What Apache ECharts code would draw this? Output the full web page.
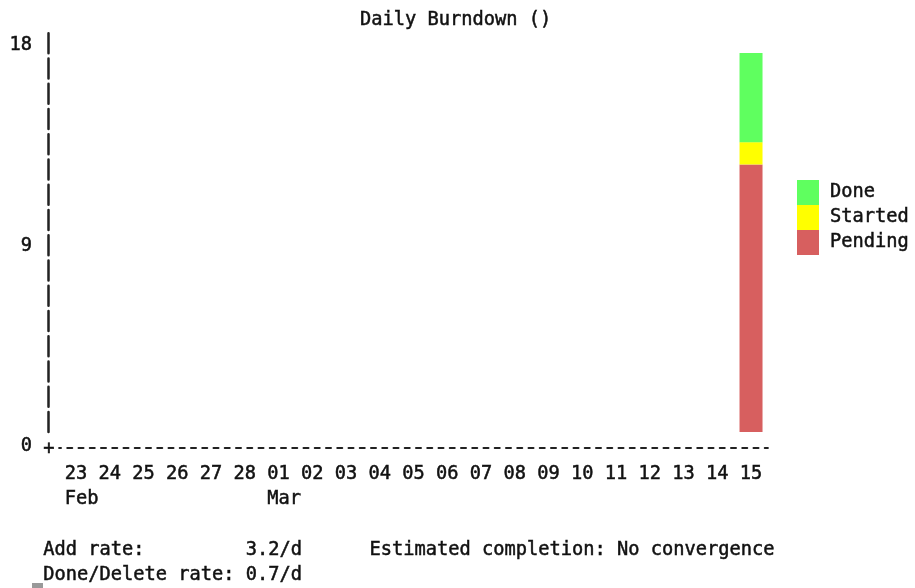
<!DOCTYPE html>
<html><head><meta charset="utf-8">
<script src="https://cdn.jsdelivr.net/npm/echarts@6/dist/echarts.min.js"></script>
<style>html,body{margin:0;padding:0;background:#fff}#c{width:915px;height:588px}</style>
</head><body><div id="c"></div>
<script>
// ---- data ----
const days = ['23','24','25','26','27','28','01','02','03','04','05','06','07','08','09','10','11','12','13','14','15'];
const monthStarts = {'23': 'Feb', '01': 'Mar'};
const pending = [null,null,null,null,null,null,null,null,null,null,null,null,null,null,null,null,null,null,null,null,12];
const started = [null,null,null,null,null,null,null,null,null,null,null,null,null,null,null,null,null,null,null,null,1];
const done    = [null,null,null,null,null,null,null,null,null,null,null,null,null,null,null,null,null,null,null,null,4];
const yMax = 18;
const yStep = 9;
const chartTitle = 'Daily Burndown ()';
const addRateLine = 'Add rate:         3.2/d      Estimated completion: No convergence';
const doneRateLine = 'Done/Delete rate: 0.7/d';

// ---- styles ----
const FONT = '"DejaVu Sans Mono", "Liberation Mono", monospace';
const FS = 18.7;
const INK = '#111';
const SW = 0.5; // slight stroke to mimic heavier terminal rendering
const C_PENDING = '#d75f5f', C_STARTED = '#ffff00', C_DONE = '#5fff5f';
const txt = {fontFamily: FONT, fontSize: FS, color: INK, textBorderColor: INK, textBorderWidth: SW};

const chart = echarts.init(document.getElementById('c'), null, {renderer: 'canvas'});
chart.setOption({
  backgroundColor: '#fff',
  animation: false,
  title: {
    text: chartTitle, left: 355, top: 6,
    textStyle: Object.assign({fontWeight: 'normal'}, txt)
  },
  legend: {
    orient: 'vertical', left: 797, top: 180, padding: 0,
    itemWidth: 22, itemHeight: 25, itemGap: 0, icon: 'rect',
    data: ['Done', 'Started', 'Pending'],
    textStyle: Object.assign({padding: [4, 0, 0, 6]}, txt)
  },
  grid: {left: 59.1, right: 147.1, top: 30.7, bottom: 156},
  xAxis: {
    type: 'category', data: days, offset: 16,
    axisLine: {onZero: false, lineStyle: {color: '#222', width: 2, type: [5, 6.25], dashOffset: 3.1}},
    axisTick: {show: false},
    axisLabel: Object.assign({
      interval: 0, margin: 14, lineHeight: 25,
      formatter: v => monthStarts[v] ? v + '\n ' + monthStarts[v] : v
    }, txt),
    splitLine: {show: false}
  },
  yAxis: {
    type: 'value', min: 0, max: yMax, interval: yStep, offset: 11,
    axisLine: {show: true, lineStyle: {color: '#222', width: 2.5, type: [20, 5.25]}},
    axisTick: {show: false},
    splitLine: {show: false},
    axisLabel: Object.assign({margin: 16, verticalAlign: 'top', lineHeight: 29}, txt)
  },
  series: [
    {name: 'Pending', type: 'bar', stack: 'b', data: pending, barWidth: 23, itemStyle: {color: C_PENDING}},
    {name: 'Started', type: 'bar', stack: 'b', data: started, barWidth: 23, itemStyle: {color: C_STARTED}},
    {name: 'Done', type: 'bar', stack: 'b', data: done, barWidth: 23, itemStyle: {color: C_DONE}}
  ],
  graphic: [
    {type: 'text', left: 43, top: 439, style: {text: '+', font: FS + 'px ' + FONT, fill: INK, stroke: INK, lineWidth: SW}},
    {type: 'text', left: 43, top: 540, style: {text: addRateLine, font: FS + 'px ' + FONT, fill: INK, stroke: INK, lineWidth: SW}},
    {type: 'text', left: 43, top: 565, style: {text: doneRateLine, font: FS + 'px ' + FONT, fill: INK, stroke: INK, lineWidth: SW}},
    {type: 'rect', shape: {x: 32, y: 583, width: 11, height: 5}, style: {fill: '#999'}}
  ]
});
</script>
</body></html>
